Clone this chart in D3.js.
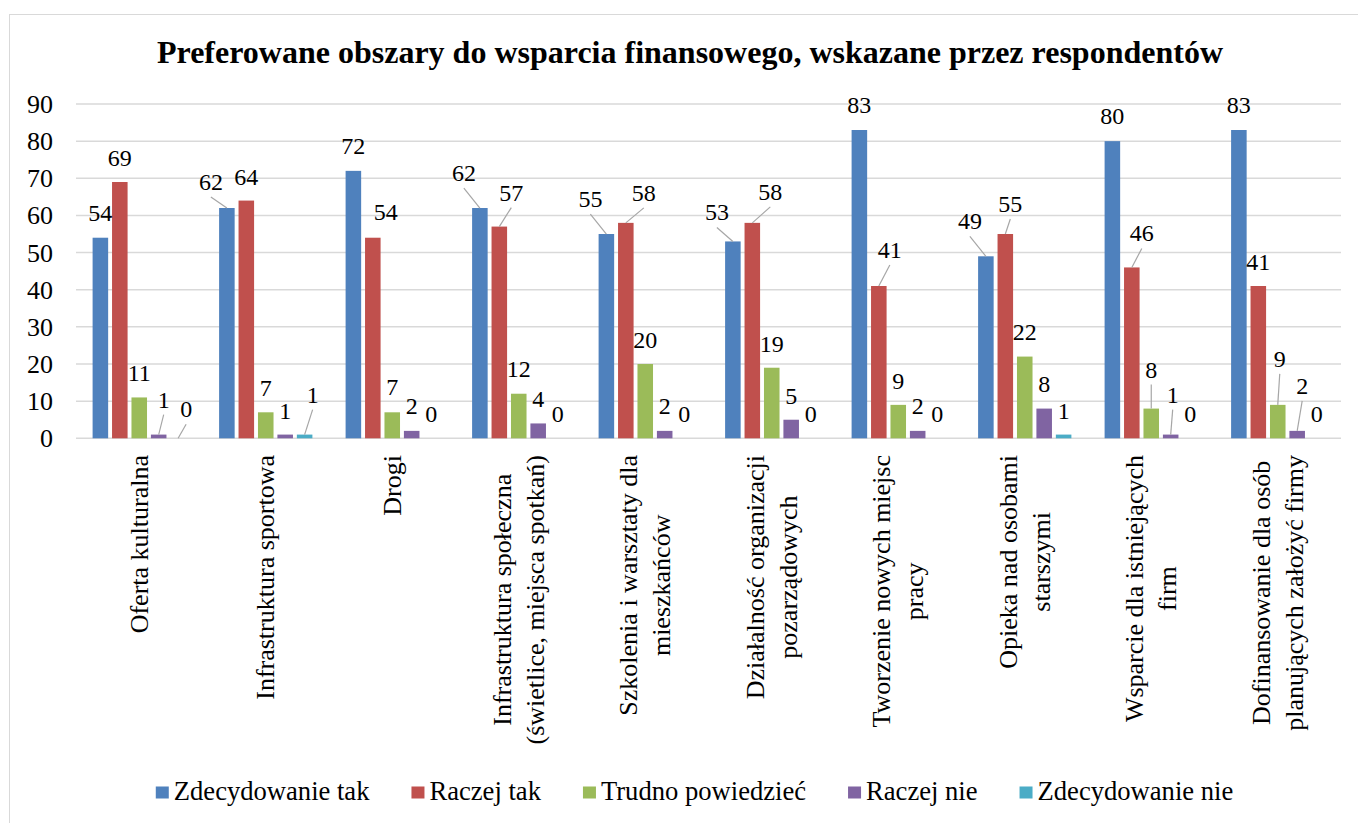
<!DOCTYPE html>
<html>
<head>
<meta charset="utf-8">
<script src="https://cdn.jsdelivr.net/npm/d3@7"></script>
<style>
  html, body { margin: 0; padding: 0; background: #fff; }
  svg { display: block; }
</style>
</head>
<body>
<svg id="chart" width="1358" height="823"></svg>
<script>
const title = "Preferowane obszary do wsparcia finansowego, wskazane przez respondentów";

const categories = [
  "Oferta kulturalna",
  "Infrastruktura sportowa",
  "Drogi",
  "Infrastruktura społeczna\n(świetlice, miejsca spotkań)",
  "Szkolenia i warsztaty dla\nmieszkańców",
  "Działalność organizacji\npozarządowych",
  "Tworzenie nowych miejsc\npracy",
  "Opieka nad osobami\nstarszymi",
  "Wsparcie dla istniejących\nfirm",
  "Dofinansowanie dla osób\nplanujących założyć firmy"
];

const seriesNames = ["Zdecydowanie tak", "Raczej tak", "Trudno powiedzieć", "Raczej nie", "Zdecydowanie nie"];
const seriesColors = ["#4F81BD", "#C0504D", "#9BBB59", "#8064A2", "#4BACC6"];

const zdecydowanieTak  = [54, 62, 72, 62, 55, 53, 83, 49, 80, 83];
const raczejTak        = [69, 64, 54, 57, 58, 58, 41, 55, 46, 41];
const trudnoPowiedziec = [11,  7,  7, 12, 20, 19,  9, 22,  8,  9];
const raczejNie        = [ 1,  1,  2,  4,  2,  5,  2,  8,  1,  2];
const zdecydowanieNie  = [ 0,  1,  0,  0,  0,  0,  0,  1,  0,  0];

const yTicks = [0, 10, 20, 30, 40, 50, 60, 70, 80, 90];

// label placement (dx, dy from bar top, leader line) – mimics Excel's best fit
const labelNudge = [
  [[0,-25],[0,-24],[0,-24],[5,-35,1],[8,-29,1]],
  [[-16,-26,1],[0,-24],[0,-24],[0,-24],[8,-40,1]],
  [[0,-25],[13,-26],[0,-25],[0,-25],[0,-24]],
  [[-16,-35,1],[12,-34,1],[0,-25],[0,-24],[0,-24]],
  [[-16,-35,1],[18,-30,1],[0,-24],[0,-25],[0,-24]],
  [[-16,-29,1],[18,-31,1],[0,-24],[0,-24],[0,-24]],
  [[0,-25],[11,-36,1],[0,-24],[0,-25],[0,-24]],
  [[-16,-35,1],[5,-30,1],[0,-25],[0,-25],[0,-24]],
  [[0,-25],[10,-34,1],[0,-39,1],[2,-40,1],[0,-24]],
  [[0,-25],[0,-24],[2,-46,1],[5,-45,1],[0,-24]]
];

const serif = "Liberation Serif";

const seriesValues = [zdecydowanieTak, raczejTak, trudnoPowiedziec, raczejNie, zdecydowanieNie];

const rows = categories.map((c, i) => ({
  name: c,
  values: seriesNames.map((s, j) => ({ series: s, j: j, i: i, value: seriesValues[j][i] }))
}));

const svg = d3.select("#chart");

// chart border
svg.append("rect")
  .attr("x", 9.5).attr("y", 14.5)
  .attr("width", 1360).attr("height", 820)
  .attr("fill", "none")
  .attr("stroke", "#d9d9d9")
  .attr("stroke-width", 1);

svg.append("text")
  .attr("x", 690).attr("y", 63)
  .attr("text-anchor", "middle")
  .attr("font-family", serif)
  .attr("font-size", 32)
  .attr("font-weight", "bold")
  .text(title);

const x0 = d3.scaleBand().domain(categories).range([76, 1341]).padding(0);
const x1 = d3.scaleBand().domain(seriesNames).range([0, x0.bandwidth()])
  .paddingInner(0.2).paddingOuter(0.854);
const y = d3.scaleLinear().domain([0, 90]).range([438.3, 104]);

// gridlines
svg.append("g")
  .selectAll("line")
  .data(yTicks)
  .join("line")
  .attr("x1", 76).attr("x2", 1341)
  .attr("y1", d => y(d)).attr("y2", d => y(d))
  .attr("stroke", "#d9d9d9")
  .attr("stroke-width", 1.5);

// y axis labels
svg.append("g")
  .selectAll("text")
  .data(yTicks)
  .join("text")
  .attr("x", 53)
  .attr("y", d => y(d) + 9)
  .attr("text-anchor", "end")
  .attr("font-family", serif)
  .attr("font-size", 26)
  .text(d => d);

// bars
const groups = svg.append("g")
  .selectAll("g")
  .data(rows)
  .join("g")
  .attr("transform", d => `translate(${x0(d.name)},0)`);

groups.selectAll("rect")
  .data(d => d.values)
  .join("rect")
  .attr("x", d => x1(d.series))
  .attr("y", d => y(d.value))
  .attr("width", x1.bandwidth())
  .attr("height", d => y(0) - y(d.value))
  .attr("fill", (d, k) => seriesColors[k]);

// data labels with leader lines
const labels = groups.selectAll("g.lbl")
  .data(d => d.values)
  .join("g")
  .attr("class", "lbl");

labels.each(function(d) {
  const g = d3.select(this);
  const nudge = labelNudge[d.i][d.j];
  const bx = x1(d.series) + x1.bandwidth() / 2;
  const by = y(d.value);
  const lx = bx + nudge[0];
  const ly = by + nudge[1];
  if (nudge[2]) {
    g.append("line")
      .attr("x1", lx).attr("y1", ly + 15)
      .attr("x2", bx).attr("y2", by)
      .attr("stroke", "#a6a6a6")
      .attr("stroke-width", 1.2);
  }
  g.append("text")
    .attr("x", lx).attr("y", ly + 8)
    .attr("text-anchor", "middle")
    .attr("font-family", serif)
    .attr("font-size", 24)
    .text(d.value);
});

// category labels (rotated, wrapped lines centred on longest one)
const catFont = 26, lineH = 33, labelTop = 455;
const cats = svg.append("g")
  .selectAll("g")
  .data(categories)
  .join("g")
  .attr("transform", d => `translate(${x0(d) + x0.bandwidth() / 2},${labelTop}) rotate(-90)`);

cats.each(function(d) {
  const g = d3.select(this);
  const lines = d.split("\n");
  const t = g.selectAll("text")
    .data(lines)
    .join("text")
    .attr("text-anchor", "middle")
    .attr("y", (l, k) => (k - (lines.length - 1) / 2) * lineH + 0.32 * catFont)
    .attr("font-family", serif)
    .attr("font-size", catFont)
    .text(l => l);
  let maxLen = 0;
  t.each(function() { maxLen = Math.max(maxLen, this.getComputedTextLength()); });
  t.attr("x", -maxLen / 2);
});

// legend
const legend = svg.append("g");
let lxPos = 0;
seriesNames.forEach((s, k) => {
  const it = legend.append("g").attr("transform", `translate(${lxPos},0)`);
  it.append("rect")
    .attr("x", 0).attr("y", 786.5)
    .attr("width", 13).attr("height", 12)
    .attr("fill", seriesColors[k]);
  const tx = it.append("text")
    .attr("x", 18).attr("y", 799.5)
    .attr("font-family", serif)
    .attr("font-size", 26.6)
    .text(s);
  const w = tx.node().getComputedTextLength();
  lxPos += 18 + w + 42;
});
const legendWidth = lxPos - 42;
legend.attr("transform", `translate(${694.5 - legendWidth / 2},0)`);
</script>
</body>
</html>
